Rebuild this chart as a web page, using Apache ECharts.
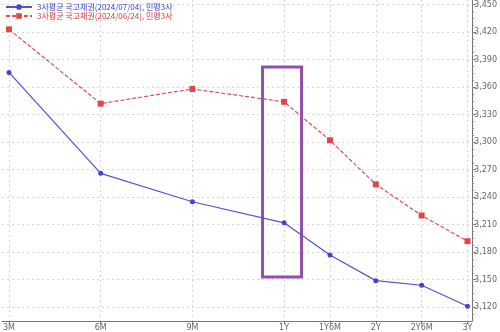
<!DOCTYPE html>
<html>
<head>
<meta charset="utf-8">
<script src="https://cdn.jsdelivr.net/npm/echarts@6/dist/echarts.min.js"></script>
<style>
  html, body { margin: 0; padding: 0; background: #fff; }
  #chart { width: 500px; height: 332px; }
</style>
</head>
<body>
<div id="chart"></div>
<script>
// 만기 구간 (1Y 이후는 6개월 간격이 앞쪽의 절반 폭)
let tenors = ['3M', '6M', '9M', '1Y', '1Y6M', '2Y', '2Y6M', '3Y'];
let tenorPos = [0, 2, 4, 6, 7, 8, 9, 10];

let nameJul = '3사평균 국고채권(2024/07/04), 민평3사';
let nameJun = '3사평균 국고채권(2024/06/24), 민평3사';

let yieldJul = [3376, 3266, 3235, 3212, 3177, 3149, 3144, 3121];
let yieldJun = [3423, 3342, 3358, 3344, 3302, 3254, 3220, 3192];

let yTicks = [3120, 3150, 3180, 3210, 3240, 3270, 3300, 3330, 3360, 3390, 3420, 3450];

// 보조 눈금 (30 간격 사이 3개)
let yMinor = [];
for (let v = 3112.5; v <= 3450; v += 7.5) yMinor.push(v);

let pairs = function (vals) {
    return vals.map((v, i) => [tenorPos[i], v]);
};

let createEchart = function (id, option) {
    let chart = echarts.init(document.getElementById(id));
    chart.setOption(option);
    return chart;
};

let lineChart = function () {
    let gridDot = { show: true, lineStyle: { color: '#d6d6d6', type: [2, 3], width: 1 } };
    return {
        animation: false,
        textStyle: { fontFamily: 'DejaVu Sans' },
        legend: {
            orient: 'vertical',
            left: 0,
            top: -2,
            itemGap: 1,
            itemWidth: 26,
            itemHeight: 7,
            textStyle: { fontSize: 8, fontFamily: 'Noto Sans CJK KR', padding: [0, 0, 0, 0] },
            data: [
                { name: nameJul, textStyle: { color: '#4040cc' } },
                { name: nameJun, textStyle: { color: '#dc3434' } }
            ]
        },
        grid: { left: 0, right: 27, top: 0, bottom: 9 },
        xAxis: {
            type: 'value',
            min: -0.15,
            max: 10.1,
            axisLine: { show: true, onZero: false, lineStyle: { color: '#777' } },
            axisTick: { show: true, length: 3, customValues: tenorPos, lineStyle: { color: '#777' } },
            axisLabel: {
                customValues: tenorPos,
                fontSize: 8,
                color: '#666',
                margin: 3,
                formatter: function (v) {
                    let i = tenorPos.indexOf(v);
                    return i >= 0 ? tenors[i] : '';
                }
            },
            splitLine: gridDot
        },
        yAxis: [
            {
                type: 'value',
                position: 'right',
                min: 3105,
                max: 3455,
                axisLine: { show: true, onZero: false, lineStyle: { color: '#777' } },
                axisTick: { show: true, length: 4, customValues: yTicks, lineStyle: { color: '#777' } },
                axisLabel: {
                    customValues: yTicks,
                    fontSize: 8,
                    color: '#666',
                    margin: 2,
                    formatter: function (v) { return echarts.format.addCommas(v); }
                },
                splitLine: gridDot
            },
            {
                type: 'value',
                position: 'right',
                min: 3105,
                max: 3455,
                axisLine: { show: false, onZero: false },
                axisTick: { show: true, length: 2, customValues: yMinor, lineStyle: { color: '#888' } },
                axisLabel: { show: false },
                splitLine: { show: false }
            }
        ],
        series: [
            {
                name: nameJul,
                type: 'line',
                data: pairs(yieldJul),
                symbol: 'circle',
                symbolSize: 5,
                lineStyle: { color: '#5252d8', width: 1.2 },
                itemStyle: { color: '#4444d0' },
                markArea: {
                    silent: true,
                    itemStyle: { color: 'rgba(0,0,0,0)', borderColor: '#9050a8', borderWidth: 3 },
                    data: [[{ coord: [5.53, 3382] }, { coord: [6.38, 3153] }]]
                }
            },
            {
                name: nameJun,
                type: 'line',
                data: pairs(yieldJun),
                symbol: 'rect',
                symbolSize: 6,
                lineStyle: { color: '#e05050', width: 1.2, type: [4, 2] },
                itemStyle: { color: '#e04848' }
            }
        ]
    };
};

window.onload = function () {
    createEchart('chart', lineChart());
};
</script>
</body>
</html>
